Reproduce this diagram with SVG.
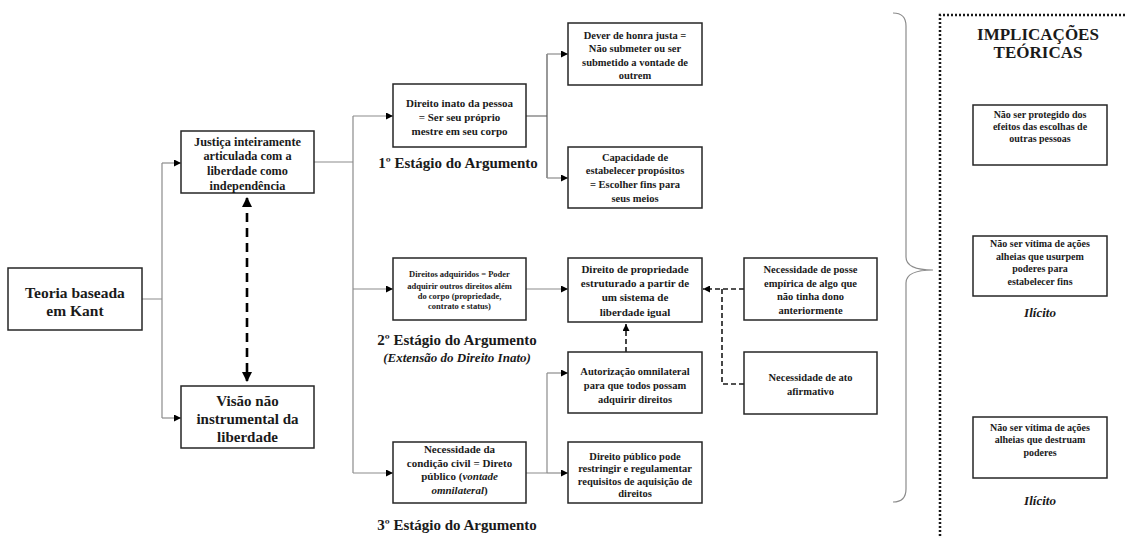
<svg xmlns="http://www.w3.org/2000/svg" width="1126" height="536" viewBox="0 0 1126 536" font-family="'Liberation Serif', 'DejaVu Serif', serif">
<style>
.box{fill:#fff;stroke:#262626;stroke-width:1.5}
.t{font-family:'Liberation Serif','DejaVu Serif',serif;font-weight:bold;fill:#1a1a1a;text-anchor:middle}
.ln{fill:none;stroke:#8c8c8c;stroke-width:1.2}
.dl{fill:none;stroke:#1a1a1a;stroke-width:1.6;stroke-dasharray:5,3}
.big{fill:none;stroke:#000;stroke-width:2.6;stroke-dasharray:9,6}
</style>
<defs>
<marker id="ah" viewBox="0 0 10 10" refX="10" refY="5" markerWidth="7" markerHeight="7" markerUnits="userSpaceOnUse" orient="auto"><path d="M0,0 L10,5 L0,10 z" fill="#000"/></marker>
<marker id="ahb" viewBox="0 0 10 10" refX="9" refY="5" markerWidth="4" markerHeight="4" orient="auto-start-reverse"><path d="M0,0 L10,5 L0,10 z" fill="#000"/></marker>
</defs>
<rect width="1126" height="536" fill="#fff"/>
<g id="connectors">
<path class="ln" d="M142,299 H162 M162,163 V418"/>
<path class="ln" d="M162,163 H181" marker-end="url(#ah)"/>
<path class="ln" d="M162,418 H181" marker-end="url(#ah)"/>
<path class="big" d="M247,198 V381" marker-start="url(#ahb)" marker-end="url(#ahb)"/>
<path class="ln" d="M314,162 H353 M353,116 V473"/>
<path class="ln" d="M353,116 H393" marker-end="url(#ah)"/>
<path class="ln" d="M353,289 H393" marker-end="url(#ah)"/>
<path class="ln" d="M353,473 H393" marker-end="url(#ah)"/>
<path class="ln" d="M526,116 H547 M547,54 V178" style="stroke:#555"/>
<path class="ln" d="M547,54 H568" marker-end="url(#ah)"/>
<path class="ln" d="M547,178 H568" marker-end="url(#ah)"/>
<path class="ln" d="M526,289 H568" marker-end="url(#ah)"/>
<path class="ln" d="M526,473 H547 M547,373 V473"/>
<path class="ln" d="M547,373 H568" marker-end="url(#ah)"/>
<path class="ln" d="M547,473 H568" marker-end="url(#ah)"/>
<path class="dl" d="M626,352 V324" marker-end="url(#ah)"/>
<path class="dl" d="M744,289 H703" marker-end="url(#ah)"/>
<path class="dl" d="M722,289 V384 H744"/>
<path d="M893,13 Q906,13 906,26 V257 Q906,270 933,270 Q906,270 906,283 V489 Q906,502 893,502" fill="none" stroke="#8c8c8c" stroke-width="1.2"/>
<path d="M940,536 V15 H1126" fill="none" stroke="#1a1a1a" stroke-width="2.5" stroke-dasharray="2,2"/>
</g>
<g id="n-kant"><rect class="box" x="8" y="268" width="134" height="62"/>
<text class="t" font-size="15.5" x="75" y="298">Teoria baseada</text><text class="t" font-size="15.5" x="75" y="316">em Kant</text></g>
<g id="n-justica"><rect class="box" x="181" y="131" width="133" height="62"/>
<text class="t" font-size="12.3" x="247.5" y="146">Justiça inteiramente</text><text class="t" font-size="12.3" x="247.5" y="160">articulada com a</text><text class="t" font-size="12.3" x="247.5" y="175">liberdade como</text><text class="t" font-size="12.3" x="247.5" y="190">independência</text></g>
<g id="n-visao"><rect class="box" x="181" y="386" width="133" height="62"/>
<text class="t" font-size="15" x="247.5" y="406">Visão não</text><text class="t" font-size="15" x="247.5" y="424">instrumental da</text><text class="t" font-size="15" x="247.5" y="442">liberdade</text></g>
<g id="n-inato"><rect class="box" x="393" y="84" width="133" height="63"/>
<text class="t" font-size="11" x="459.5" y="107">Direito inato da pessoa</text><text class="t" font-size="11" x="459.5" y="121">= Ser seu próprio</text><text class="t" font-size="11" x="459.5" y="135">mestre em seu corpo</text></g>
<text class="t" font-size="15" x="458" y="168">1º Estágio do Argumento</text>
<g id="n-dever"><rect class="box" x="568" y="23" width="134" height="62"/>
<text class="t" font-size="10.5" x="635" y="39">Dever de honra justa =</text><text class="t" font-size="10.5" x="635" y="52">Não submeter ou ser</text><text class="t" font-size="10.5" x="635" y="66">submetido a vontade de</text><text class="t" font-size="10.5" x="635" y="79">outrem</text></g>
<g id="n-capacidade"><rect class="box" x="568" y="147" width="134" height="61"/>
<text class="t" font-size="10.5" x="635" y="161">Capacidade de</text><text class="t" font-size="10.5" x="635" y="174">estabelecer propósitos</text><text class="t" font-size="10.5" x="635" y="188">= Escolher fins para</text><text class="t" font-size="10.5" x="635" y="202">seus meios</text></g>
<g id="n-adquiridos"><rect class="box" x="393" y="258" width="133" height="62"/>
<text class="t" font-size="8.5" x="459.5" y="277">Direitos adquiridos = Poder</text><text class="t" font-size="8.5" x="459.5" y="289">adquirir  outros direitos além</text><text class="t" font-size="8.5" x="459.5" y="299">do corpo (propriedade,</text><text class="t" font-size="8.5" x="459.5" y="309">contrato e status)</text></g>
<text class="t" font-size="15" x="457" y="345">2º Estágio do Argumento</text>
<text class="t" font-size="13" font-style="italic" x="457" y="362">(Extensão do Direito Inato)</text>
<g id="n-propriedade"><rect class="box" x="568" y="258" width="134" height="64"/>
<text class="t" font-size="11" x="635" y="273">Direito de propriedade</text><text class="t" font-size="11" x="635" y="287">estruturado a partir de</text><text class="t" font-size="11" x="635" y="301">um sistema de</text><text class="t" font-size="11" x="635" y="316">liberdade igual</text></g>
<g id="n-autorizacao"><rect class="box" x="568" y="352" width="134" height="61"/>
<text class="t" font-size="10.5" x="635" y="375">Autorização omnilateral</text><text class="t" font-size="10.5" x="635" y="389">para que todos possam</text><text class="t" font-size="10.5" x="635" y="403">adquirir direitos</text></g>
<g id="n-civil"><rect class="box" x="393" y="442" width="133" height="61"/>
<text class="t" font-size="11" x="459.5" y="453">Necessidade da</text><text class="t" font-size="11" x="459.5" y="467">condição civil = Direto</text><text class="t" font-size="11" x="459.5" y="480">público (<tspan font-style="italic">vontade</tspan></text><text class="t" font-size="11" x="459.5" y="494"><tspan font-style="italic">omnilateral</tspan>)</text></g>
<text class="t" font-size="15" x="457" y="530">3º Estágio do Argumento</text>
<g id="n-publico"><rect class="box" x="568" y="442" width="134" height="61"/>
<text class="t" font-size="10.5" x="635" y="460">Direito público pode</text><text class="t" font-size="10.5" x="635" y="472">restringir e regulamentar</text><text class="t" font-size="10.5" x="635" y="485">requisitos de aquisição de</text><text class="t" font-size="10.5" x="635" y="497">direitos</text></g>
<g id="n-posse"><rect class="box" x="744" y="258" width="133" height="62"/>
<text class="t" font-size="10.5" x="810.5" y="273">Necessidade de posse</text><text class="t" font-size="10.5" x="810.5" y="287">empírica de algo que</text><text class="t" font-size="10.5" x="810.5" y="300">não tinha dono</text><text class="t" font-size="10.5" x="810.5" y="314">anteriormente</text></g>
<g id="n-ato"><rect class="box" x="744" y="352" width="133" height="62"/>
<text class="t" font-size="10.5" x="810.5" y="381">Necessidade de ato</text><text class="t" font-size="10.5" x="810.5" y="395">afirmativo</text></g>
<g id="n-titulo"><text class="t" font-size="17" x="1038" y="40">IMPLICAÇÕES</text><text class="t" font-size="17" x="1038" y="58">TEÓRICAS</text></g>
<g id="n-imp1"><rect class="box" x="973" y="105" width="134" height="60"/>
<text class="t" font-size="10" x="1040" y="118">Não ser protegido dos</text><text class="t" font-size="10" x="1040" y="130">efeitos das escolhas de</text><text class="t" font-size="10" x="1040" y="142">outras pessoas</text></g>
<g id="n-imp2"><rect class="box" x="973" y="236" width="134" height="60"/>
<text class="t" font-size="10" x="1040" y="247">Não ser vítima de ações</text><text class="t" font-size="10" x="1040" y="260">alheias que usurpem</text><text class="t" font-size="10" x="1040" y="272">poderes para</text><text class="t" font-size="10" x="1040" y="285">estabelecer fins</text>
<text class="t" font-size="13" font-style="italic" x="1040" y="317">Ilícito</text></g>
<g id="n-imp3"><rect class="box" x="973" y="417" width="134" height="61"/>
<text class="t" font-size="10" x="1040" y="431">Não ser vítima de ações</text><text class="t" font-size="10" x="1040" y="443">alheias que destruam</text><text class="t" font-size="10" x="1040" y="456">poderes</text>
<text class="t" font-size="13" font-style="italic" x="1040" y="505">Ilícito</text></g>
</svg>
